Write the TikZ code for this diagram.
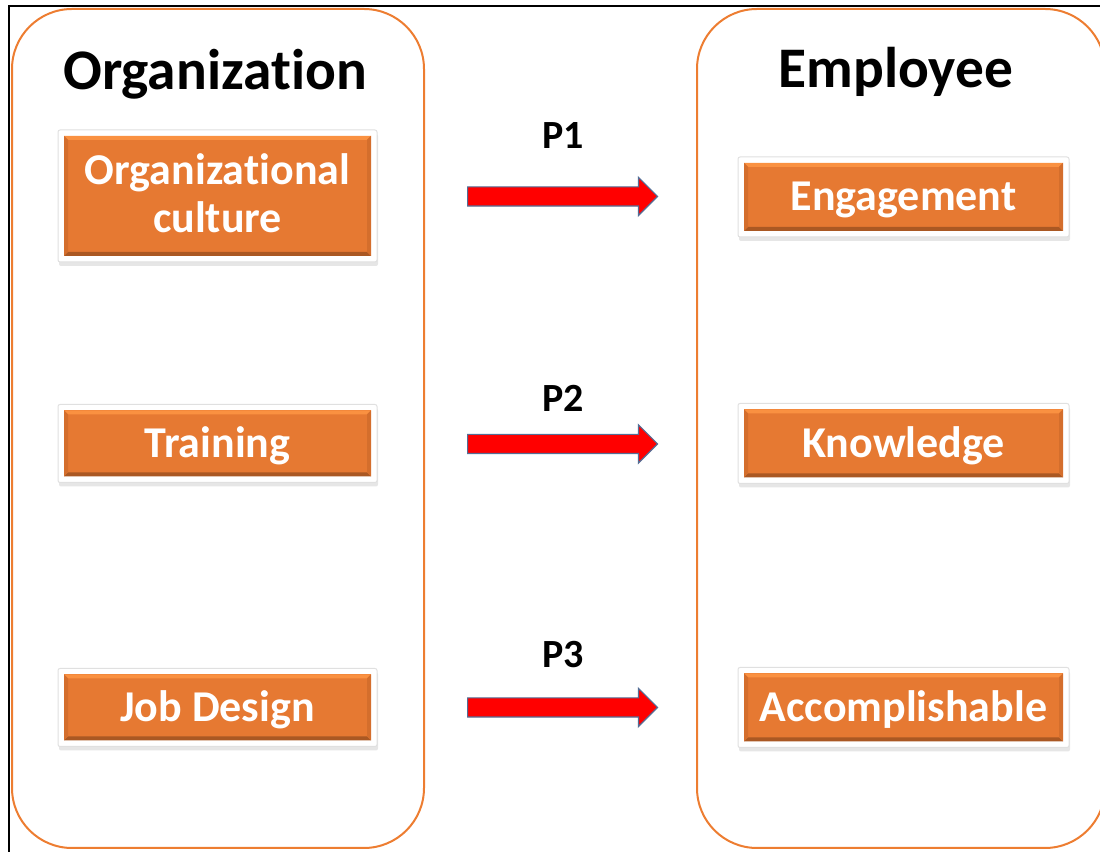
\documentclass[tikz,border=0pt]{standalone}
\usepackage{fontspec}
\setmainfont[Ligatures=NoCommon]{Carlito}
\usetikzlibrary{shapes.arrows,shadows}
\definecolor{grouporange}{RGB}{237,125,49}
\definecolor{boxorange}{RGB}{230,121,50}
\definecolor{bevellight}{RGB}{250,145,65}
\definecolor{beveldark}{RGB}{170,88,35}
\definecolor{bevelmid}{RGB}{212,110,44}
\definecolor{arrowedge}{RGB}{84,110,150}

\begin{document}
\begin{tikzpicture}[x=0.5pt,y=0.5pt,
  group/.style={draw=grouporange,line width=1pt,rounded corners=30pt},
  heading/.style={font=\bfseries\fontsize{28.7}{34}\selectfont,anchor=base},
  factor/.style={fill=white,draw=black!12,line width=0.5pt,rounded corners=1pt,
    drop shadow={shadow xshift=0.5pt,shadow yshift=-2pt,opacity=0.2},
    minimum height=39pt,inner sep=0pt,text=white,align=center,
    font=\bfseries\fontsize{22}{24}\selectfont,text height=14pt,text depth=0pt,
    path picture={
      \coordinate (bevsw) at ([shift={(3pt,3pt)}]path picture bounding box.south west);
      \coordinate (bevne) at ([shift={(-3pt,-3pt)}]path picture bounding box.north east);
      \fill[boxorange,sharp corners] (bevsw) rectangle (bevne);
      \fill[bevellight,sharp corners] (bevsw |- bevne) -- (bevne) -- ++(-2pt,-2pt) -- ([shift={(2pt,-2pt)}]bevsw |- bevne) -- cycle;
      \fill[beveldark,sharp corners] (bevsw) -- (bevsw -| bevne) -- ++(-2pt,2pt) -- ([shift={(2pt,2pt)}]bevsw) -- cycle;
      \fill[bevelmid,sharp corners] (bevsw) -- ++(2pt,2pt) -- ([shift={(2pt,-2pt)}]bevsw |- bevne) -- (bevsw |- bevne) -- cycle;
      \fill[bevelmid,sharp corners] (bevne) -- ++(-2pt,-2pt) -- ([shift={(-2pt,2pt)}]bevsw -| bevne) -- (bevsw -| bevne) -- cycle;
    }},
  parrow/.style={shape=single arrow,fill=red,draw=arrowedge,line width=0.6pt,anchor=tail,
    minimum height=95pt,minimum width=19pt,inner sep=4.5pt,single arrow head extend=4.75pt},
  plabel/.style={font=\bfseries\fontsize{20}{24}\selectfont,anchor=base}]
\useasboundingbox (0,0) rectangle (1100,852);
\clip (0,0) rectangle (1100,852);
\draw[line width=1pt] (9,0) -- (9,846) -- (1100,846);
\draw[group] (12,843) rectangle (424,4);
\draw[group] (697,843) rectangle (1105,4);
\node[heading] (org) at (215,762) {Organization};
\node[heading] (emp) at (896,764) {Employee};
\node[factor,minimum width=159.5pt,minimum height=66pt,text height=37pt] (culture) at (217.5,656) {Organizational\\culture};
\node[factor,minimum width=159.5pt] (training) at (217.5,408.5) {Training};
\node[factor,minimum width=159.5pt] (jobdesign) at (217.5,144.5) {Job Design};
\node[factor,minimum width=165.5pt,minimum height=40pt] (engagement) at (903.5,655) {Engagement};
\node[factor,minimum width=165.5pt,minimum height=40pt] (knowledge) at (903.5,408.5) {Knowledge};
\node[factor,minimum width=165.5pt,minimum height=40pt] (accomp) at (903.5,144.5) {Accomplishable};
\node[parrow] (arrowa) at (467,655.5) {};
\node[parrow] (arrowb) at (467,408) {};
\node[parrow] (arrowc) at (467,144.5) {};
\node[plabel] (pa) at (563,703) {P1};
\node[plabel] (pb) at (563,440) {P2};
\node[plabel] (pc) at (563,184) {P3};
\end{tikzpicture}
\end{document}
